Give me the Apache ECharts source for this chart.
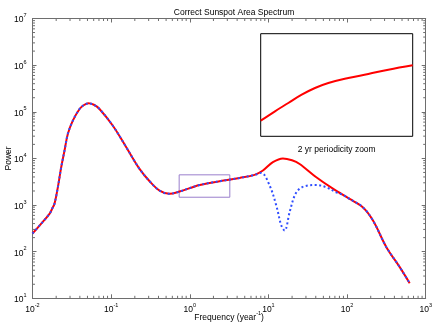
<!DOCTYPE html>
<html>
<head>
<meta charset="utf-8">
<script src="https://cdn.jsdelivr.net/npm/echarts@6/dist/echarts.min.js"></script>
<style>
  html, body { margin: 0; padding: 0; background: #fff; }
  #chart { width: 436px; height: 327px; }
</style>
</head>
<body>
<div id="chart"></div>
<script>
// shared part of both spectra (low frequencies)
const freqLow  = [0.01, 0.0126, 0.01644, 0.01778, 0.01905, 0.0210, 0.02317, 0.02553, 0.02812, 0.03258,
                  0.03963, 0.04467, 0.05152, 0.06026, 0.07112, 0.1052, 0.1556, 0.2296, 0.3083, 0.4130,
                  0.5534, 0.7413, 1.334, 2.393, 4.305, 6.668];
const powerLow = [245, 380, 646, 832, 1072, 2399, 6457, 14690, 33500, 64570,
                  114800, 138000, 151400, 141300, 114800, 50100, 17380, 5957, 3236, 2042,
                  1738, 1950, 2692, 3236, 3802, 4436];
// red (correct) spectrum around the 11 yr bump
const freqRed  = [8.511, 11.40, 15.28, 19.95, 24.95, 40.64, 66.07];
const powerRed = [5495, 8318, 10000, 9120, 7586, 3936, 2239];
// blue (dotted) spectrum with the notch
const freqBlue  = [8.110, 10.35, 12.59, 14.59, 16.07, 18.62, 21.53, 24.95, 31.84, 40.64, 54.45, 73.11, 89.13];
const powerBlue = [4898, 2630, 977, 363, 284, 708, 1585, 2239, 2630, 2692, 2399, 1862, 1641];
// shared high frequency tail
const freqTail  = [107.9, 158.5, 213.8, 316.2, 467.7, 625.2];
const powerTail = [1349, 897, 465, 125, 46.6, 21.1];
// inset: 2 yr periodicity zoom (linear axes)
const insetFreq  = [0.75, 0.98, 1.195, 1.411, 1.625, 1.84, 2.162, 2.484, 2.807, 3.2];
const insetPower = [1941, 2207, 2441, 2676, 2865, 3006, 3148, 3261, 3382, 3507];
// zoom box (in data coordinates)
const zoomBox = [[0.733, 1470], [3.23, 4440]];

const FONT = 'Liberation Sans, Arial, Helvetica, sans-serif';
const AXIS = '#6e6e6e';

function pairs(xs, ys) { return xs.map((x, i) => [x, ys[i]]); }
const redData  = pairs(freqLow, powerLow).concat(pairs(freqRed, powerRed), pairs(freqTail, powerTail));
const blueData = pairs(freqLow, powerLow).concat(pairs(freqBlue, powerBlue), pairs(freqTail, powerTail));

function powLabel(v) {
  const e = Math.round(Math.log10(v));
  return '{b|10}{s|' + e + '}';
}
const rich = {
  b: { fontFamily: FONT, fontSize: 8.5, color: '#000', lineHeight: 12, verticalAlign: 'bottom' },
  s: { fontFamily: FONT, fontSize: 5.5, color: '#000', lineHeight: 12, verticalAlign: 'top' }
};

function logAxis(pos, min, max, labels) {
  return {
    type: 'log', logBase: 10, position: pos, min: min, max: max, interval: 1,
    gridIndex: 0,
    axisLine: { show: true, lineStyle: { color: AXIS, width: 1 } },
    axisTick: { show: true, inside: true, length: 4, lineStyle: { color: AXIS } },
    axisLabel: labels ? { show: true, formatter: powLabel, rich: rich, margin: labels } : { show: false },
    splitLine: { show: false }
  };
}

const chart = echarts.init(document.getElementById('chart'));

const xMain = logAxis('bottom', 0.01, 1000, 4);
xMain.name = '{b|Frequency (year}{s|-1}{b|)}';
xMain.nameLocation = 'middle';
xMain.nameGap = 12;
xMain.nameMoveOverlap = false;
xMain.nameTextStyle = { rich: rich };
const yMain = logAxis('left', 10, 1e7, 6);
yMain.name = 'Power';
yMain.nameLocation = 'middle';
yMain.nameGap = 19;
yMain.nameMoveOverlap = false;
yMain.nameTextStyle = { fontFamily: FONT, fontSize: 8.5, color: '#000' };

const option = {
  animation: false,
  backgroundColor: '#fff',
  title: {
    text: 'Correct Sunspot Area Spectrum',
    left: 229, top: 3, textAlign: 'center',
    textStyle: { fontFamily: FONT, fontSize: 8.5, fontWeight: 'normal', color: '#000' }
  },
  grid: [
    { left: 32.5, top: 18.5, right: 10.3, bottom: 28.7, containLabel: false, outerBoundsMode: 'none' },
    { left: 260.7, top: 33.7, width: 152, height: 102.6, show: true, containLabel: false, outerBoundsMode: 'none',
      backgroundColor: '#fff', borderColor: '#000', borderWidth: 1 }
  ],
  xAxis: [
    xMain,
    logAxis('top', 0.01, 1000, 0),
    {
      type: 'value', gridIndex: 1, min: 0.75, max: 3.2,
      axisLine: { show: false }, axisTick: { show: false }, axisLabel: { show: false }, splitLine: { show: false },
      name: '2 yr periodicity zoom', nameLocation: 'middle', nameGap: 9, nameMoveOverlap: false,
      nameTextStyle: { fontFamily: FONT, fontSize: 8.5, color: '#000' }
    }
  ],
  yAxis: [
    yMain,
    logAxis('right', 10, 1e7, 0),
    {
      type: 'value', gridIndex: 1, min: 1500, max: 4400,
      axisLine: { show: false }, axisTick: { show: false }, axisLabel: { show: false }, splitLine: { show: false }
    }
  ],
  series: [
    {
      type: 'line', name: 'correct', data: redData, xAxisIndex: 0, yAxisIndex: 0,
      showSymbol: false, smooth: 0.35, z: 2,
      lineStyle: { color: '#ff0000', width: 2 },
      markArea: {
        silent: true,
        itemStyle: { color: 'rgba(0,0,0,0)', borderColor: '#9a7fcc', borderWidth: 1 },
        data: [[{ coord: zoomBox[0] }, { coord: zoomBox[1] }]]
      }
    },
    {
      type: 'line', name: 'filtered', data: blueData, xAxisIndex: 0, yAxisIndex: 0,
      showSymbol: false, smooth: 0.35, z: 3,
      lineStyle: { color: '#2f4dff', width: 2, type: [2, 2.5] }
    },
    {
      type: 'line', name: 'inset', data: pairs(insetFreq, insetPower), xAxisIndex: 2, yAxisIndex: 2,
      showSymbol: false, smooth: 0.4, z: 4,
      lineStyle: { color: '#ff0000', width: 2 }
    }
  ]
};
chart.setOption(option);

// minor ticks at 2..9 of each decade, on all four sides of the main box
function minorTicks() {
  const els = [];
  const x0 = chart.convertToPixel({ xAxisIndex: 0 }, 0.01);
  const x1 = chart.convertToPixel({ xAxisIndex: 0 }, 1000);
  const y0 = chart.convertToPixel({ yAxisIndex: 0 }, 10);
  const y1 = chart.convertToPixel({ yAxisIndex: 0 }, 1e7);
  const len = 2.5;
  const st = { stroke: AXIS, lineWidth: 1 };
  for (let d = -2; d < 3; d++) {
    for (let m = 2; m < 10; m++) {
      const px = chart.convertToPixel({ xAxisIndex: 0 }, m * Math.pow(10, d));
      els.push({ type: 'line', shape: { x1: px, y1: y0, x2: px, y2: y0 - len }, style: st, silent: true });
      els.push({ type: 'line', shape: { x1: px, y1: y1, x2: px, y2: y1 + len }, style: st, silent: true });
    }
  }
  for (let d = 1; d < 7; d++) {
    for (let m = 2; m < 10; m++) {
      const py = chart.convertToPixel({ yAxisIndex: 0 }, m * Math.pow(10, d));
      els.push({ type: 'line', shape: { x1: x0, y1: py, x2: x0 + len, y2: py }, style: st, silent: true });
      els.push({ type: 'line', shape: { x1: x1, y1: py, x2: x1 - len, y2: py }, style: st, silent: true });
    }
  }
  chart.setOption({ graphic: els });
}
minorTicks();
</script>
</body>
</html>
